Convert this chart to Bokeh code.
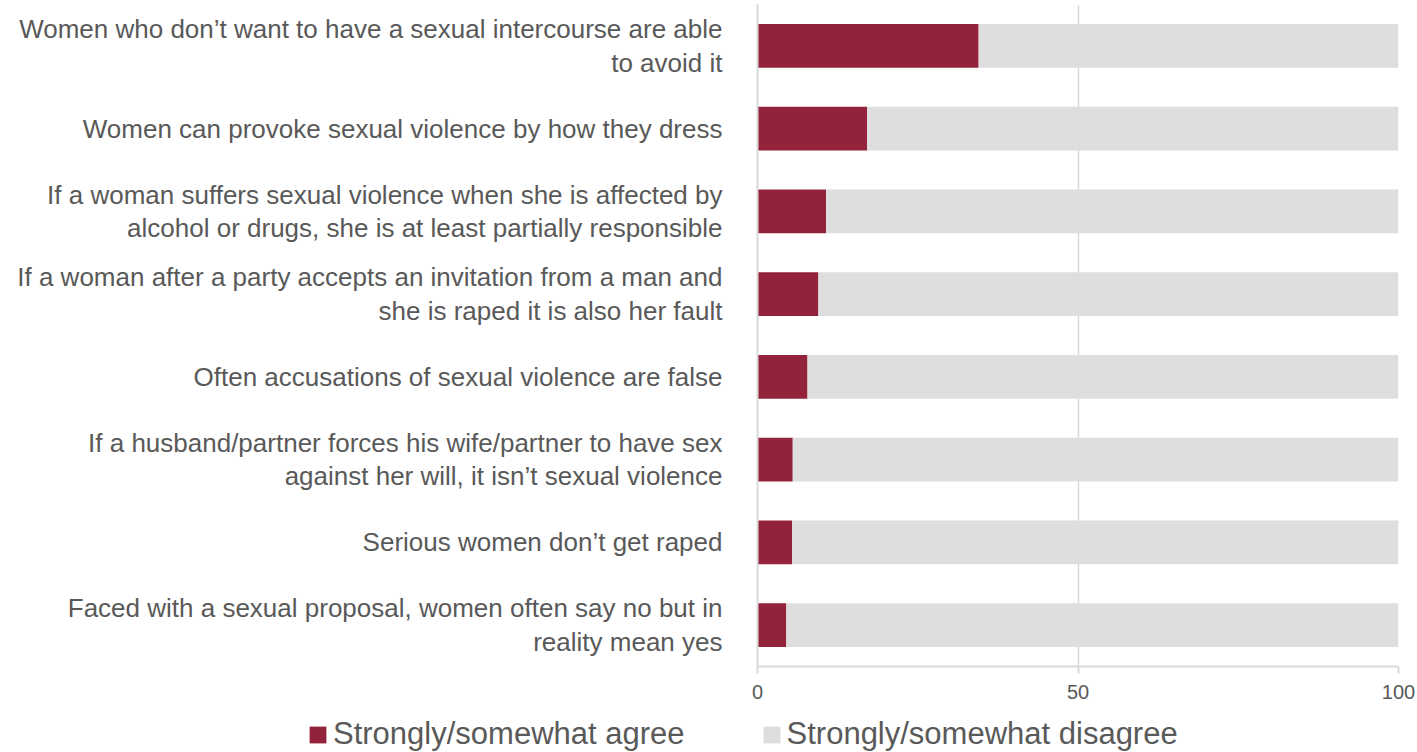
from bokeh.plotting import figure
from bokeh.models import (FactorRange, Range1d, Legend, LegendItem, FixedTicker,
                          ColumnDataSource)
from bokeh.embed import file_html
from bokeh.resources import INLINE

statements = [
    "Women who don\u2019t want to have a sexual intercourse are able\nto avoid it",
    "Women can provoke sexual violence by how they dress",
    "If a woman suffers sexual violence when she is affected by\nalcohol or drugs, she is at least partially responsible",
    "If a woman after a party accepts an invitation from a man and\nshe is raped it is also her fault",
    "Often accusations of sexual violence are false",
    "If a husband/partner forces his wife/partner to have sex\nagainst her will, it isn\u2019t sexual violence",
    "Serious women don\u2019t get raped",
    "Faced with a sexual proposal, women often say no but in\nreality mean yes",
]
agree = [34.5, 17.1, 10.7, 9.5, 7.8, 5.5, 5.4, 4.5]
disagree = [65.5, 82.9, 89.3, 90.5, 92.2, 94.5, 94.6, 95.5]
series_labels = ["Strongly/somewhat agree", "Strongly/somewhat disagree"]
x_ticks = [0, 50, 100]

RED = "#93233A"
GREY = "#DEDEDE"
GRID = "#D9D9D9"
TEXT = "#595959"
FONT = "'Liberation Sans', Arial, sans-serif"

source = ColumnDataSource(dict(statement=statements, agree=agree, disagree=disagree))

# ---------------- main chart ----------------
p = figure(
    width=1417, height=707,
    y_range=FactorRange(factors=list(reversed(statements)), range_padding=0),
    x_range=Range1d(0, 100),
    output_backend="svg", toolbar_location=None,
)
p.min_border_left = 757
p.min_border_right = 19
p.min_border_top = 4
p.min_border_bottom = 41
p.outline_line_color = None
p.background_fill_color = "white"
p.border_fill_color = "white"

p.hbar_stack(["agree", "disagree"], y="statement", height=0.53,
             color=[RED, GREY], line_color=None, source=source)

p.ygrid.grid_line_color = None
p.xgrid.ticker = FixedTicker(ticks=x_ticks)
p.xgrid.grid_line_color = GRID
p.xgrid.grid_line_width = 1.5

xa = p.xaxis[0]
xa.ticker = FixedTicker(ticks=x_ticks)
xa.axis_line_color = GRID
xa.axis_line_width = 2
xa.major_tick_line_color = GRID
xa.major_tick_line_width = 2
xa.major_tick_in = 0
xa.major_tick_out = 7
xa.minor_tick_line_color = None
xa.major_label_text_font = FONT
xa.major_label_text_font_size = "20px"
xa.major_label_text_color = TEXT
xa.major_label_standoff = 11

ya = p.yaxis[0]
ya.axis_line_color = GRID
ya.axis_line_width = 2
ya.major_tick_line_color = None
ya.minor_tick_line_color = None
ya.major_label_standoff = 29
ya.major_label_text_font = FONT
ya.major_label_text_font_size = "26px"
ya.major_label_text_color = TEXT
ya.major_label_text_line_height = 1.12

# ---------------- legend strip (separate root, not frame-aligned) ----------------
leg = figure(
    width=1417, height=45,
    x_range=Range1d(0, 1), y_range=Range1d(0, 1),
    x_axis_type=None, y_axis_type=None,
    output_backend="svg", toolbar_location=None,
)
leg.min_border = 0
leg.min_border_left = 0
leg.min_border_right = 0
leg.min_border_top = 0
leg.min_border_bottom = 0
leg.outline_line_color = None
leg.grid.visible = False
leg.border_fill_color = "white"
leg.background_fill_color = "white"

# zero-size placeholder bars: they only supply the legend swatches
swatch = ColumnDataSource(dict(y=[0], right=[0]))
r_agree = leg.hbar(y="y", right="right", height=0, source=swatch, color=RED, line_color=None)
r_dis = leg.hbar(y="y", right="right", height=0, source=swatch, color=GREY, line_color=None)

legend = Legend(
    items=[LegendItem(label=series_labels[0], renderers=[r_agree]),
           LegendItem(label=series_labels[1], renderers=[r_dis])],
    orientation="horizontal",
    location=(307, 0),
    margin=0, padding=0,
    spacing=76,
    glyph_width=21, glyph_height=21,
    label_standoff=5,
    label_text_font=FONT,
    label_text_font_size="31px",
    label_text_color=TEXT,
    border_line_color=None,
    background_fill_alpha=0,
)
leg.add_layout(legend, "center")

open("out.html", "w").write(file_html([p, leg], INLINE))
